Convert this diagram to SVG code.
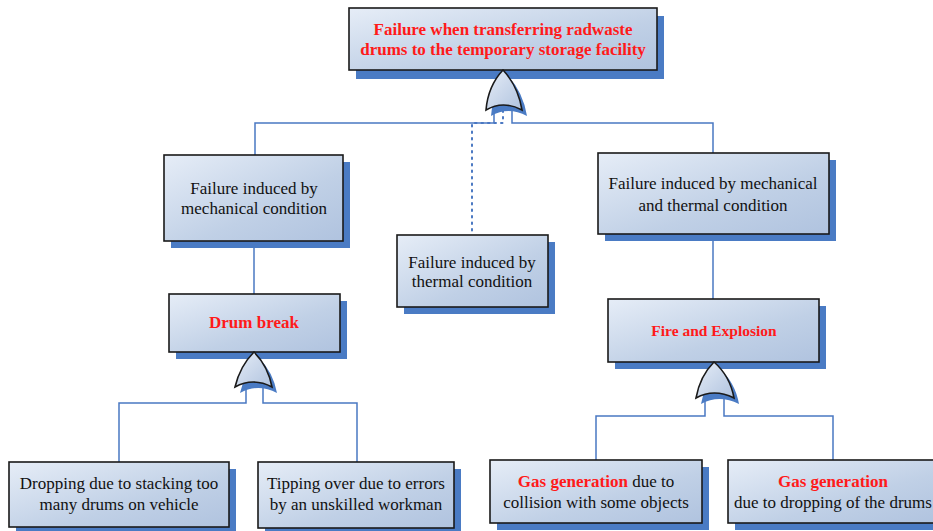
<svg xmlns="http://www.w3.org/2000/svg" width="933" height="531" viewBox="0 0 933 531">
<defs>
<linearGradient id="g" x1="0" y1="0" x2="1" y2="1">
<stop offset="0" stop-color="#e6edf7"/>
<stop offset="0.6" stop-color="#c0d0e6"/>
<stop offset="1" stop-color="#b0c3df"/>
</linearGradient>
<linearGradient id="gg" x1="0" y1="0" x2="1" y2="1">
<stop offset="0" stop-color="#e6edf7"/>
<stop offset="1" stop-color="#b0c3df"/>
</linearGradient>
</defs>
<style>
.box{fill:url(#g);stroke:#1a1a1a;stroke-width:1.6}
.sh{fill:#4a7bc4}
.gate{fill:url(#gg);stroke:#1a1a1a;stroke-width:1.6}
.gsh{fill:#4a7bc4}
.c{fill:none;stroke:#4a78c2;stroke-width:1.5}
.d{fill:none;stroke:#4a78c2;stroke-width:2;stroke-dasharray:1.5 5;stroke-linecap:round}
.t{font-family:"Liberation Serif","Times New Roman",serif;font-size:17px;fill:#111;text-anchor:middle}
.r{font-family:"Liberation Serif","Times New Roman",serif;font-size:17px;font-weight:bold;fill:#ff1a1a;text-anchor:middle}
</style>
<g id="connectors">
<path class="c" d="M255,155 V123 H494 V106"/>
<path class="c" d="M512,106 V123 H713 V153"/>
<path class="d" d="M503,104 V123 H472 V234"/>
<path class="c" d="M254,241 V294"/>
<path class="c" d="M713,234 V299"/>
<path class="c" d="M246,383 V403 H119 V462"/>
<path class="c" d="M263,383 V403 H357 V462"/>
<path class="c" d="M705,394 V416 H596 V460"/>
<path class="c" d="M724,394 V416 H833 V460"/>
</g>
<g id="top">
<rect class="sh" x="356" y="16" width="308" height="63"/>
<rect class="box" x="349" y="8" width="308" height="62"/>
<text class="r" x="503" y="35">Failure when transferring radwaste</text>
<text class="r" x="503" y="55">drums to the temporary storage facility</text>
</g>
<g id="gate-top">
<path class="gsh" d="M508,76 Q493,92 491,116 Q508,106 527,116 Q523,92 508,76 Z"/>
<path class="gate" d="M503,70 Q488,86 486,110 Q503,100 522,110 Q518,86 503,70 Z"/>
</g>
<g id="mech">
<rect class="sh" x="171" y="162" width="179" height="86"/>
<rect class="box" x="164" y="155" width="179" height="86"/>
<text class="t" x="254" y="194">Failure induced by</text>
<text class="t" x="254" y="214">mechanical condition</text>
</g>
<g id="thermal">
<rect class="sh" x="404" y="242" width="151" height="72"/>
<rect class="box" x="397" y="235" width="151" height="72"/>
<text class="t" x="472" y="268">Failure induced by</text>
<text class="t" x="472" y="287">thermal condition</text>
</g>
<g id="mechthermal">
<rect class="sh" x="605" y="160" width="231" height="81"/>
<rect class="box" x="598" y="153" width="231" height="81"/>
<text class="t" x="713" y="189">Failure induced by mechanical</text>
<text class="t" x="713" y="211">and thermal condition</text>
</g>
<g id="drum">
<rect class="sh" x="176" y="301" width="171" height="58"/>
<rect class="box" x="169" y="294" width="171" height="58"/>
<text class="r" x="254" y="328">Drum break</text>
</g>
<g id="gate-drum">
<path class="gsh" d="M259,358 Q245,372 240,393 Q258,383 277,393 Q273,372 259,358 Z"/>
<path class="gate" d="M254,352 Q240,366 235,387 Q253,377 272,387 Q268,366 254,352 Z"/>
</g>
<g id="fire">
<rect class="sh" x="615" y="306" width="211" height="63"/>
<rect class="box" x="608" y="299" width="211" height="63"/>
<text class="r" x="714" y="336" style="font-size:15.5px">Fire and Explosion</text>
</g>
<g id="gate-fire">
<path class="gsh" d="M719,368 Q705,382 701,404 Q719,394 739,404 Q735,382 719,368 Z"/>
<path class="gate" d="M714,362 Q700,376 696,398 Q714,388 734,398 Q730,376 714,362 Z"/>
</g>
<g id="drop">
<rect class="sh" x="16" y="469" width="220" height="65"/>
<rect class="box" x="9" y="462" width="220" height="65"/>
<text class="t" x="119" y="489">Dropping due to stacking too</text>
<text class="t" x="119" y="510">many drums on vehicle</text>
</g>
<g id="tip">
<rect class="sh" x="265" y="469" width="196" height="66"/>
<rect class="box" x="258" y="462" width="196" height="66"/>
<text class="t" x="356" y="489">Tipping over due to errors</text>
<text class="t" x="356" y="510">by an unskilled workman</text>
</g>
<g id="gas1">
<rect class="sh" x="497" y="467" width="212" height="63"/>
<rect class="box" x="490" y="460" width="212" height="63"/>
<text class="t" x="596" y="487"><tspan style="fill:#ff1a1a;font-weight:bold">Gas generation</tspan> due to</text>
<text class="t" x="596" y="508">collision with some objects</text>
</g>
<g id="gas2">
<rect class="sh" x="735" y="467" width="210" height="63"/>
<rect class="box" x="728" y="460" width="210" height="63"/>
<text class="r" x="833" y="487">Gas generation</text>
<text class="t" x="833" y="508">due to dropping of the drums</text>
</g>
</svg>
